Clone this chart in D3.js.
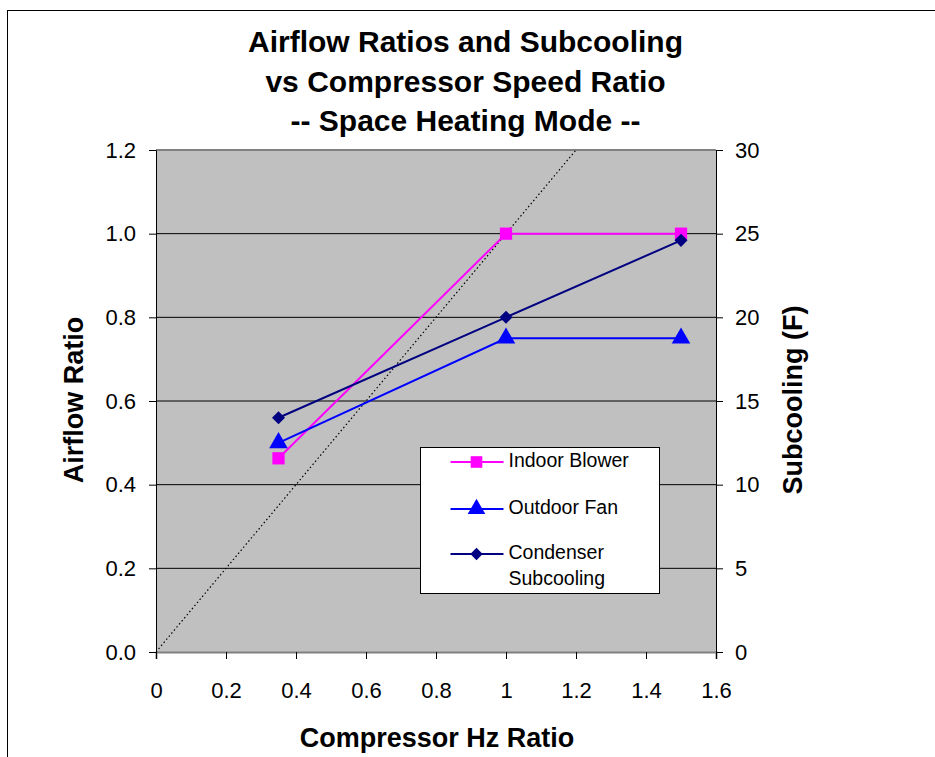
<!DOCTYPE html>
<html>
<head>
<meta charset="utf-8">
<script src="https://cdn.jsdelivr.net/npm/d3@7"></script>
<style>
  body { margin: 0; background: #fff; }
  svg { font-family: Arial, "Liberation Sans", sans-serif; }
</style>
</head>
<body>
<svg id="chart" width="935" height="757"></svg>
<script>
// data
const hzRatio = [0.35, 1.0, 1.5];
const indoorBlower = [0.463, 1.0, 1.0];
const outdoorFan = [0.5, 0.75, 0.75];
const subcooling = [14.0, 20.0, 24.6];
const xTicks = [0, 0.2, 0.4, 0.6, 0.8, 1, 1.2, 1.4, 1.6];
const yTicks = [0, 0.2, 0.4, 0.6, 0.8, 1.0, 1.2];
const y2Ticks = [0, 5, 10, 15, 20, 25, 30];
const titleLines = ["Airflow Ratios and Subcooling", "vs Compressor Speed Ratio", "-- Space Heating Mode --"];

const svg = d3.select("#chart");
const plot = {left: 156, right: 716, top: 150, bottom: 652};

// outer chart border
svg.append("rect")
   .attr("x", 7.5).attr("y", 10.5)
   .attr("width", 930).attr("height", 760)
   .attr("fill", "none").attr("stroke", "#000").attr("stroke-width", 1);

const x = d3.scaleLinear().domain([0, 1.6]).range([plot.left, plot.right]);
const y = d3.scaleLinear().domain([0, 1.2]).range([plot.bottom, plot.top]);
const y2 = d3.scaleLinear().domain([0, 30]).range([plot.bottom, plot.top]);

// plot area
svg.append("rect")
   .attr("x", plot.left).attr("y", plot.top)
   .attr("width", plot.right - plot.left).attr("height", plot.bottom - plot.top)
   .attr("fill", "#c0c0c0");

// gridlines
svg.append("g")
   .selectAll("line")
   .data(yTicks.slice(1, -1))
   .enter().append("line")
   .attr("x1", plot.left).attr("x2", plot.right)
   .attr("y1", d => y(d)).attr("y2", d => y(d))
   .attr("stroke", "#000").attr("stroke-width", 1);

// plot border
svg.append("line").attr("x1", plot.left).attr("x2", plot.right)
   .attr("y1", plot.top).attr("y2", plot.top).attr("stroke", "#808080").attr("stroke-width", 2);

// axes
const xAxis = svg.append("g")
   .attr("transform", `translate(0, ${plot.bottom})`)
   .call(d3.axisBottom(x).tickValues(xTicks).tickFormat(d => d).tickSizeOuter(0).tickSize(7).tickPadding(23));

const yAxis = svg.append("g")
   .attr("transform", `translate(${plot.left}, 0)`)
   .call(d3.axisLeft(y).tickValues(yTicks).tickFormat(d3.format(".1f")).tickSizeOuter(0).tickSize(7).tickPadding(13));

const y2Axis = svg.append("g")
   .attr("transform", `translate(${plot.right}, 0)`)
   .call(d3.axisRight(y2).tickValues(y2Ticks).tickSizeOuter(0).tickSize(7).tickPadding(12));

[xAxis, yAxis, y2Axis].forEach(a => {
  a.selectAll("text").style("font-size", "22px").attr("fill", "#000");
  a.selectAll("line").attr("stroke", "#000");
  a.select(".domain").attr("stroke", "#000");
});
xAxis.select(".domain").attr("stroke", "#808080").attr("stroke-width", 2);

// y = x reference line, clipped to plot
svg.append("clipPath").attr("id", "clip")
   .append("rect").attr("x", plot.left).attr("y", plot.top)
   .attr("width", plot.right - plot.left).attr("height", plot.bottom - plot.top);

svg.append("line")
   .attr("clip-path", "url(#clip)")
   .attr("x1", x(0)).attr("y1", y(0))
   .attr("x2", x(1.6)).attr("y2", y(1.6))
   .attr("stroke", "#000").attr("stroke-width", 1.2)
   .attr("stroke-dasharray", "1.5,2.5");

// series
const series = [
  {name: "Indoor Blower", values: indoorBlower, scale: y, color: "#ff00ff", symbol: d3.symbolSquare, size: 150, rot: 0},
  {name: "Outdoor Fan", values: outdoorFan, scale: y, color: "#0000ff", symbol: d3.symbolTriangle, size: 150, rot: 0},
  {name: "Condenser Subcooling", values: subcooling, scale: y2, color: "#000080", symbol: d3.symbolSquare, size: 85, rot: 45}
];

const line = d3.line();

series.forEach(s => {
  const pts = hzRatio.map((h, i) => [x(h), s.scale(s.values[i])]);
  svg.append("path")
     .attr("d", line(pts))
     .attr("fill", "none")
     .attr("stroke", s.color)
     .attr("stroke-width", 2);
  svg.selectAll(null)
     .data(pts)
     .enter().append("path")
     .attr("transform", d => `translate(${d[0]}, ${d[1]}) rotate(${s.rot})`)
     .attr("d", d3.symbol().type(s.symbol).size(s.size))
     .attr("fill", s.color);
});

// legend
const legend = svg.append("g").attr("transform", "translate(420.5, 447.5)");
legend.append("rect")
   .attr("width", 239).attr("height", 146)
   .attr("fill", "#fff").attr("stroke", "#000").attr("stroke-width", 1);

const legendRows = [14.5, 61.5, 106.5];
series.forEach((s, i) => {
  const g = legend.append("g").attr("transform", `translate(0, ${legendRows[i]})`);
  g.append("line").attr("x1", 30).attr("x2", 83).attr("y1", 0).attr("y2", 0)
   .attr("stroke", s.color).attr("stroke-width", 2);
  g.append("path").attr("transform", `translate(56, 0) rotate(${s.rot})`)
   .attr("d", d3.symbol().type(s.symbol).size(s.size * 0.9))
   .attr("fill", s.color);
  const label = g.append("text").attr("x", 88).attr("y", 5).style("font-size", "19.5px");
  if (i === 2) {
    label.append("tspan").attr("x", 88).text("Condenser");
    label.append("tspan").attr("x", 88).attr("dy", 26).text("Subcooling");
  } else {
    label.text(s.name);
  }
});

// title
svg.append("text")
   .attr("text-anchor", "middle")
   .style("font-size", "30px").style("font-weight", "bold")
   .selectAll("tspan")
   .data(titleLines)
   .enter().append("tspan")
   .attr("x", 465.5)
   .attr("y", (d, i) => 52 + i * 39.5)
   .text(d => d);

// axis titles
svg.append("text")
   .attr("x", 437).attr("y", 747)
   .attr("text-anchor", "middle")
   .style("font-size", "27px").style("font-weight", "bold")
   .text("Compressor Hz Ratio");

svg.append("text")
   .attr("transform", "translate(83, 400) rotate(-90)")
   .attr("text-anchor", "middle")
   .style("font-size", "27px").style("font-weight", "bold")
   .text("Airflow Ratio");

svg.append("text")
   .attr("transform", "translate(802, 400) rotate(-90)")
   .attr("text-anchor", "middle")
   .style("font-size", "27px").style("font-weight", "bold")
   .text("Subcooling (F)");
</script>
</body>
</html>
